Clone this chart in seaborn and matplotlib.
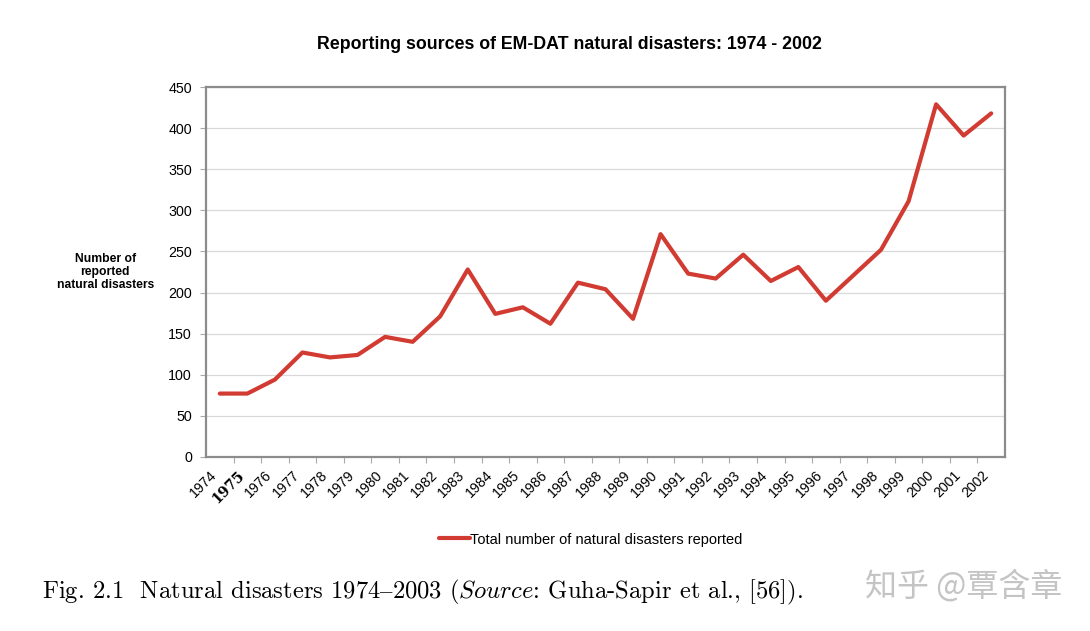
import numpy as np
import pandas as pd
import matplotlib
matplotlib.use("Agg")
import matplotlib.pyplot as plt
import matplotlib.transforms as mtransforms
import seaborn as sns

# ── data ──────────────────────────────────────────────────────────────────────
years  = list(range(1974, 2003))
counts = [77, 77, 94, 127, 121, 124, 146, 140, 171, 228,
          174, 182, 162, 212, 204, 168, 271, 223, 217, 246,
          214, 231, 190, 221, 252, 311, 429, 391, 418]
y_ticks = [0, 50, 100, 150, 200, 250, 300, 350, 400, 450]

df = pd.DataFrame({"year": years, "count": counts})

# ── style ─────────────────────────────────────────────────────────────────────
sns.set_theme(style="white")
plt.rcParams["font.family"] = ["Liberation Sans", "DejaVu Sans"]
plt.rcParams["mathtext.fontset"] = "cm"
plt.rcParams["text.color"] = "black"
plt.rcParams["xtick.labelcolor"] = "black"
plt.rcParams["ytick.labelcolor"] = "black"

LINE_RED  = "#d13b32"
SPINE     = "#8c8c8c"
GRID      = "#d9d9d9"

fig = plt.figure(figsize=(10.9, 6.31), dpi=100, facecolor="white")
ax = fig.add_axes([0.189, 0.276, 0.733, 0.586])

sns.lineplot(data=df, x="year", y="count", ax=ax, color=LINE_RED,
             linewidth=3.0, label="Total number of natural disasters reported",
             legend=False)

ax.set_xlim(years[0] - 0.5, years[-1] + 0.5)
ax.set_ylim(0, 450)
ax.set_yticks(y_ticks)
ax.yaxis.grid(True, color=GRID, linewidth=0.9)
ax.set_axisbelow(True)
ax.tick_params(axis="y", labelsize=10.3, length=4, width=0.8, color="#aaaaaa",
               pad=6, left=True)

# category axis: labels near centres, tick marks at boundaries
ax.set_xticks(years)
ax.set_xticklabels([str(y) for y in years], rotation=45, ha="right",
                   rotation_mode="anchor", fontsize=10.2)
ax.tick_params(axis="x", which="major", length=0, pad=8)
ax.set_xticks(np.array(years[:-1]) + 0.5, minor=True)
ax.tick_params(axis="x", which="minor", length=4, width=0.8, color="#aaaaaa",
               bottom=True)
shift = mtransforms.ScaledTranslation(-10 / 100, 0, fig.dpi_scale_trans)
for lab in ax.get_xticklabels():
    lab.set_transform(lab.get_transform() + shift)
    if lab.get_text() == "1975":
        lab.set_family(["DejaVu Serif"])
        lab.set_fontweight("bold")

for side in ["left", "right", "top", "bottom"]:
    ax.spines[side].set_visible(True)
    ax.spines[side].set_color(SPINE)
    ax.spines[side].set_linewidth(1.6)

ax.set_xlabel("")
ax.set_ylabel("")

fig.text(0.0965, 0.569, "Number of\nreported\nnatural disasters", ha="center",
         va="center", fontsize=8.7, fontweight="bold", linespacing=1.1)

fig.text(0.5225, 0.930, "Reporting sources of EM-DAT natural disasters: 1974 - 2002",
         ha="center", va="center", fontsize=12.8, fontweight="bold")

handles, labels = ax.get_legend_handles_labels()
fig.legend(handles, labels, loc="center", bbox_to_anchor=(0.542, 0.145),
           frameon=False, fontsize=10.5, handlelength=2.1, handletextpad=0.05)

fig.text(0.0385, 0.061,
         "Fig. 2.1  Natural disasters 1974$\u2013$2003 ($\\mathit{Source}$: Guha-Sapir et al., [56]).",
         ha="left", va="center", fontsize=17.7, family=["cmr10", "DejaVu Serif"])

fig.text(0.975, 0.071, "知乎 @覃含章", ha="right", va="center", fontsize=23,
         color="#c4c4c4", family=["Noto Sans CJK SC", "DejaVu Sans"])

fig.savefig("out.png", dpi=100, facecolor="white")
